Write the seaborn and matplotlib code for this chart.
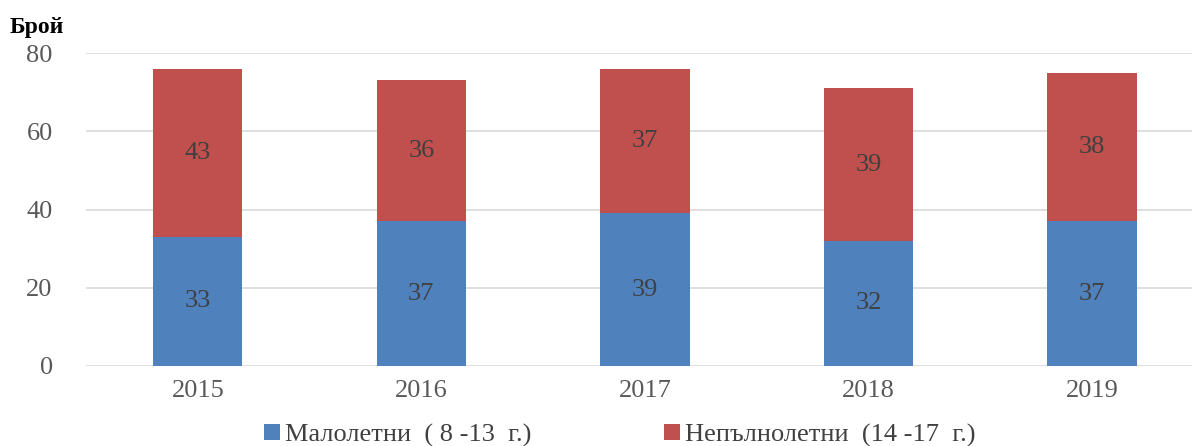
import numpy as np
import pandas as pd
import matplotlib
matplotlib.use('Agg')
import matplotlib.pyplot as plt
import seaborn as sns

years = ['2015', '2016', '2017', '2018', '2019']
minors = [33, 37, 39, 32, 37]
juveniles = [43, 36, 37, 39, 38]
label_minors = 'Малолетни  ( 8 -13  г.)'
label_juveniles = 'Непълнолетни  (14 -17  г.)'

sns.set_style('white')
plt.rcParams['font.family'] = ['Liberation Serif', 'DejaVu Serif']

df = pd.DataFrame({'year': years, 'minors': minors, 'juveniles': juveniles})

fig = plt.figure(figsize=(11.92, 4.46), dpi=100)
ax = fig.add_axes([86 / 1192, 80 / 446, 1106 / 1192, 313 / 446])

blue = '#4F81BD'
red = '#C0504D'
sns.barplot(data=df, x='year', y='minors', color=blue, width=0.4,
            saturation=1, ax=ax, label=label_minors, linewidth=0)
sns.barplot(data=df, x='year', y='juveniles', color=red, width=0.4,
            saturation=1, ax=ax, bottom=df['minors'], label=label_juveniles,
            linewidth=0)
if ax.get_legend() is not None:
    ax.get_legend().remove()

for c in ax.containers:
    ax.bar_label(c, label_type='center', fontsize=19, color='#404040')

ax.set_xlim(-0.5, 4.447)
ax.set_ylim(0, 80)
ax.set_yticks([0, 20, 40, 60, 80])
ax.yaxis.grid(True, color='#D9D9D9', linewidth=1.2)
ax.set_axisbelow(True)
for s in ax.spines.values():
    s.set_visible(False)
ax.set_xlabel('')
ax.set_ylabel('')
ax.tick_params(axis='both', length=0, labelsize=19, colors='#595959')
ax.tick_params(axis='x', pad=10)
ax.tick_params(axis='y', pad=24)

fig.text(0.008, 0.925, 'Брой', fontsize=17, fontweight='bold', color='black')

handles, labels = ax.get_legend_handles_labels()
fig.legend(handles, labels, loc='lower center', bbox_to_anchor=(0.52, -0.055),
           ncol=2, frameon=False, fontsize=19, handlelength=0.6,
           handleheight=0.6, handletextpad=0.2, columnspacing=5.0,
           labelcolor='#404040')

fig.savefig('out.png', dpi=100)
